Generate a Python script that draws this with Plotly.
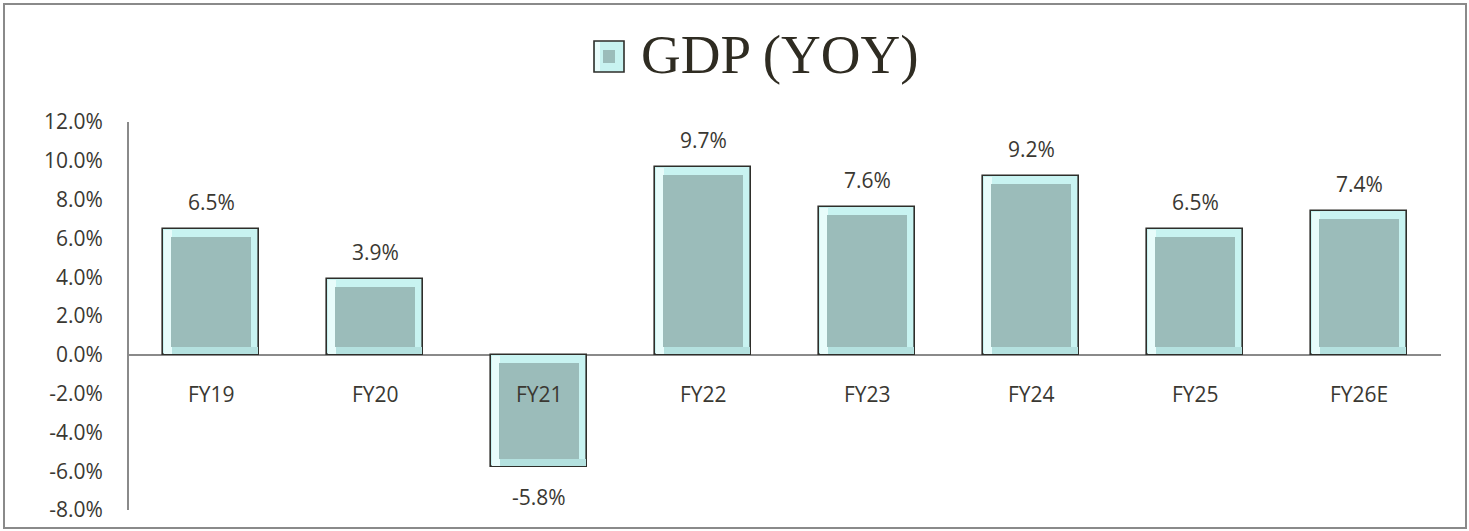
import plotly.graph_objects as go

categories = ["FY19", "FY20", "FY21", "FY22", "FY23", "FY24", "FY25", "FY26E"]
gdp_yoy = [6.5, 3.9, -5.8, 9.7, 7.6, 9.2, 6.5, 7.4]
y_ticks = [-8, -6, -4, -2, 0, 2, 4, 6, 8, 10, 12]
title_text = "GDP (YOY)"

W, H = 1469, 531
L, R, T, B = 129, 28, 122, 21
PW, PH = W - L - R, H - T - B
YMIN, YMAX = -8, 12
px_per_unit = PH / (YMAX - YMIN)
inset = 8 / px_per_unit
cat_px = PW / len(categories)
BAR_W = 0.58

def sgn(v):
    return 1 if v >= 0 else -1

def fx(p):
    return (p - L) / PW

def fy(p):
    return (H - B - p) / PH

TXT = "#3a3832"
LIGHT = "#c8f3f1"
LEFT_BEVEL = "#e8fcfb"
BOTTOM_BEVEL = "#b4e1df"
FILL = "#9bbcba"
FONT = "Open Sans"
FS = 21

fig = go.Figure()
# outer bar with dark edge and light bevel
fig.add_trace(go.Bar(
    x=categories, y=gdp_yoy, width=BAR_W,
    marker=dict(color=LIGHT, line=dict(color="#2e2e2a", width=1.6)),
    showlegend=False, hoverinfo="skip",
))
# bottom bevel (visual bottom of each bar)
fig.add_trace(go.Bar(
    x=categories,
    base=[min(v, 0) + 1 / px_per_unit for v in gdp_yoy],
    y=[inset - 1 / px_per_unit for v in gdp_yoy],
    width=BAR_W - 2 / cat_px,
    marker=dict(color=BOTTOM_BEVEL, line=dict(width=0)),
    showlegend=False, hoverinfo="skip",
))
# left bevel
fig.add_trace(go.Bar(
    x=categories,
    base=[min(v, 0) + 1 / px_per_unit for v in gdp_yoy],
    y=[abs(v) - 2 / px_per_unit for v in gdp_yoy],
    width=8 / cat_px, offset=-BAR_W / 2 + 1 / cat_px,
    marker=dict(color=LEFT_BEVEL, line=dict(width=0)),
    showlegend=False, hoverinfo="skip",
))
# inner face
fig.add_trace(go.Bar(
    x=categories,
    base=[sgn(v) * inset for v in gdp_yoy],
    y=[v - 2 * sgn(v) * inset for v in gdp_yoy],
    width=BAR_W - 16 / cat_px,
    marker=dict(color=FILL, line=dict(width=0)),
    showlegend=False, name=title_text,
))

annotations = []
for c, v in zip(categories, gdp_yoy):
    annotations.append(dict(
        x=c, y=v, xref="x", yref="y", text=f"{v:.1f}%", showarrow=False,
        yshift=27 if v >= 0 else -30, font=dict(family=FONT, size=FS, color=TXT),
    ))
    annotations.append(dict(
        x=c, y=0, xref="x", yref="y", text=c, showarrow=False,
        yshift=-39, font=dict(family=FONT, size=FS, color=TXT),
    ))

annotations.append(dict(
    x=fx(639), y=fy(55), xref="paper", yref="paper", xanchor="left", yanchor="middle",
    text=title_text, showarrow=False,
    font=dict(family="Liberation Serif", size=55, color="#2f2c22"),
))

shapes = [
    dict(type="rect", xref="paper", yref="paper", x0=fx(4), x1=fx(1466), y0=fy(528), y1=fy(4),
         line=dict(color="#8a8a8a", width=2), fillcolor="rgba(0,0,0,0)", layer="below"),
    dict(type="rect", xref="paper", yref="paper", x0=fx(594), x1=fx(624), y0=fy(72), y1=fy(41),
         line=dict(color="#2e2e2a", width=1.6), fillcolor=LIGHT),
    dict(type="rect", xref="paper", yref="paper", x0=fx(595), x1=fx(600), y0=fy(71), y1=fy(42),
         line=dict(width=0), fillcolor=LEFT_BEVEL),
    dict(type="rect", xref="paper", yref="paper", x0=fx(603), x1=fx(615), y0=fy(63), y1=fy(50),
         line=dict(width=0), fillcolor=FILL),
]

fig.update_layout(
    width=W, height=H,
    margin=dict(l=L, r=R, t=T, b=B, autoexpand=False),
    paper_bgcolor="white", plot_bgcolor="white",
    barmode="overlay", bargap=0,
    annotations=annotations, shapes=shapes,
    xaxis=dict(showticklabels=False, showgrid=False, zeroline=False, showline=False, ticks="",
               automargin=False),
    yaxis=dict(
        range=[YMIN, YMAX], tickvals=y_ticks,
        ticktext=[f"{t:.1f}%" for t in y_ticks],
        showgrid=False, zeroline=True, zerolinecolor="#8a8a8a", zerolinewidth=2,
        showline=True, linecolor="#8a8a8a", linewidth=2, ticks="",
        ticklabelstandoff=20, automargin=False,
        tickfont=dict(family=FONT, size=FS, color=TXT),
    ),
)

fig.write_html(
    "out.html",
    config={"displayModeBar": False},
    post_script="document.body.style.margin='0';document.body.style.padding='0';document.body.style.overflow='hidden';",
)
